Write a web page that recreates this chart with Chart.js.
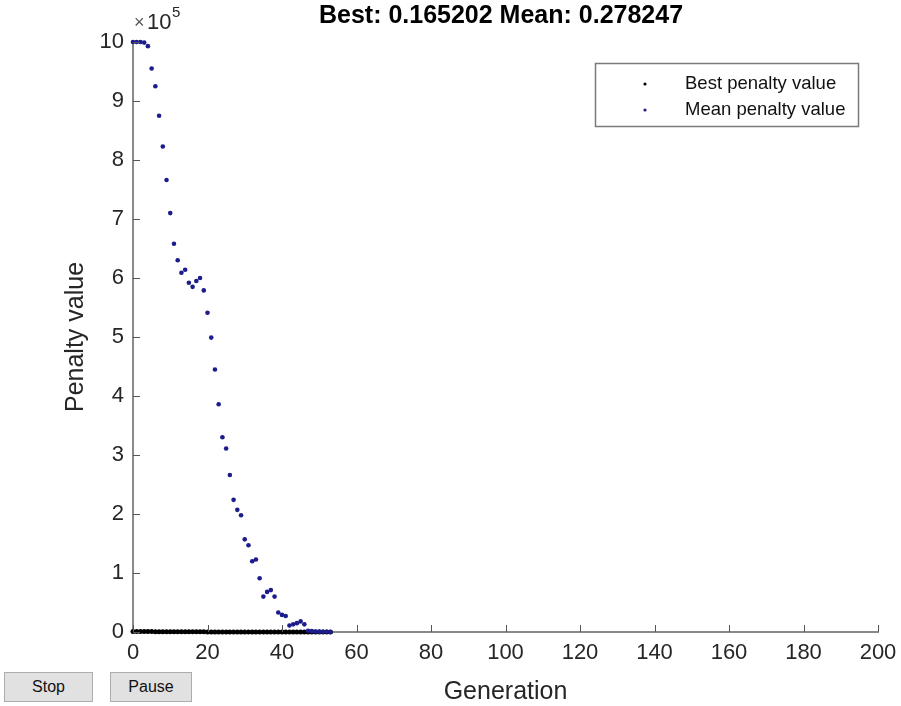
<!DOCTYPE html>
<html>
<head>
<meta charset="utf-8">
<script src="https://cdn.jsdelivr.net/npm/chart.js@4.4.0/dist/chart.umd.min.js"></script>
<style>
  body { margin: 0; background: #fff; }
  #wrap { position: relative; width: 901px; height: 706px; }
  .btn {
    position: absolute; top: 672px; height: 30px;
    background: #e1e1e1; border: 1px solid #adadad;
    font: 16px "Liberation Sans", Arial, sans-serif; color: #111;
    display: flex; align-items: center; justify-content: center;
    box-sizing: border-box;
  }
</style>
</head>
<body>
<div id="wrap">
  <canvas id="chart" width="901" height="706"></canvas>
  <div class="btn" style="left:4px;width:89px;">Stop</div>
  <div class="btn" style="left:110px;width:82px;">Pause</div>
</div>
<script>
// số liệu
var generations = [0, 1, 2, 3, 4, 5, 6, 7, 8, 9, 10, 11, 12, 13, 14, 15, 16, 17, 18, 19, 20,
    21, 22, 23, 24, 25, 26, 27, 28, 29, 30, 31, 32, 33, 34, 35, 36, 37, 38, 39, 40,
    41, 42, 43, 44, 45, 46, 47, 48, 49, 50, 51, 52, 53];

var meanPenalty = [1000000, 1000000, 1000000, 999000, 993000, 955000, 925000, 875000, 823000, 766000,
    710000, 658000, 630000, 609000, 614000, 592000, 585000, 595000, 600000, 579000,
    541000, 499000, 445000, 386000, 330000, 311000, 266000, 224000, 207000, 198000,
    157000, 147000, 120000, 123000, 91000, 60000, 68000, 71000, 60000, 33000,
    29000, 27000, 11000, 13000, 15000, 18000, 13000, 2100, 1400, 900, 600, 400, 300, 0.278];

var bestPenalty = [900, 850, 800, 760, 700, 650, 600, 560, 520, 480,
    450, 420, 390, 360, 330, 300, 280, 260, 240, 220,
    200, 180, 160, 140, 120, 100, 90, 80, 70, 60,
    50, 45, 40, 35, 30, 25, 20, 18, 16, 14,
    12, 10, 8, 6, 5, 4, 3, 2, 1.5, 1, 0.6, 0.4, 0.2, 0.165];

var xTicks = [0, 20, 40, 60, 80, 100, 120, 140, 160, 180, 200];
var yTicks = [0, 1, 2, 3, 4, 5, 6, 7, 8, 9, 10];

var titleText = "Best: 0.165202 Mean: 0.278247";
var legendLabels = ["Best penalty value", "Mean penalty value"];

var fontFam = '"Liberation Sans", Arial, sans-serif';
var textColor = "#262626";
var axisColor = "#8a8a8a";

function toPoints(vals) {
    var out = [];
    for (var i = 0; i < generations.length; i++) {
        out.push({ x: generations[i], y: vals[i] });
    }
    return out;
}

// vẽ vạch chia hướng vào trong, tiêu đề, nhãn trục, chú thích
var decor = {
    id: "decor",
    afterDraw: function(chart) {
        var ctx = chart.ctx;
        var a = chart.chartArea;
        var xs = chart.scales.x, ys = chart.scales.y;
        ctx.save();
        ctx.strokeStyle = "#555";
        ctx.lineWidth = 1;
        xTicks.forEach(function(t) {
            var px = Math.round(xs.getPixelForValue(t)) + 0.5;
            ctx.beginPath();
            ctx.moveTo(px, a.bottom);
            ctx.lineTo(px, a.bottom - 7);
            ctx.stroke();
        });
        yTicks.forEach(function(t) {
            var py = Math.round(ys.getPixelForValue(t * 1e5)) + 0.5;
            ctx.beginPath();
            ctx.moveTo(a.left, py);
            ctx.lineTo(a.left + 7, py);
            ctx.stroke();
        });

        ctx.fillStyle = "#000";
        ctx.font = "bold 25px " + fontFam;
        ctx.textAlign = "center";
        ctx.textBaseline = "middle";
        ctx.fillText(titleText, 501, 16);

        ctx.fillStyle = textColor;
        ctx.font = "25px " + fontFam;
        ctx.fillText("Generation", (a.left + a.right) / 2, 692);
        ctx.save();
        ctx.translate(76, (a.top + a.bottom) / 2);
        ctx.rotate(-Math.PI / 2);
        ctx.fillText("Penalty value", 0, 0);
        ctx.restore();

        // ×10^5
        ctx.textAlign = "left";
        ctx.textBaseline = "alphabetic";
        ctx.fillStyle = "#555";
        ctx.font = "18px " + fontFam;
        ctx.fillText("\u00d7", 134, 28);
        ctx.fillStyle = textColor;
        ctx.font = "22px " + fontFam;
        ctx.fillText("10", 147, 29);
        ctx.font = "15px " + fontFam;
        ctx.fillText("5", 172, 17);

        // chú thích
        ctx.fillStyle = "#fff";
        ctx.fillRect(595, 63, 263, 63);
        ctx.strokeStyle = "#7a7a7a";
        ctx.lineWidth = 1.5;
        ctx.strokeRect(595.5, 63.5, 263, 63);
        ctx.font = "18.5px " + fontFam;
        ctx.textBaseline = "middle";
        var colors = ["#000000", "#1c1c8c"];
        for (var i = 0; i < legendLabels.length; i++) {
            var ly = 84 + i * 26;
            ctx.fillStyle = colors[i];
            ctx.beginPath();
            ctx.arc(645, ly, 1.6, 0, Math.PI * 2);
            ctx.fill();
            ctx.fillStyle = "#111";
            ctx.fillText(legendLabels[i], 685, ly);
        }
        ctx.restore();
    }
};

new Chart(document.getElementById("chart"), {
    type: "scatter",
    data: {
        datasets: [{
            label: legendLabels[1],
            data: toPoints(meanPenalty),
            backgroundColor: "#1c1c8c",
            borderColor: "#1c1c8c",
            pointRadius: 2.3,
            borderWidth: 0,
            clip: false,
            order: 0
        }, {
            label: legendLabels[0],
            data: toPoints(bestPenalty),
            backgroundColor: "#000000",
            borderColor: "#000000",
            pointRadius: 2.5,
            borderWidth: 0,
            clip: false,
            order: 1
        }]
    },
    options: {
        responsive: false,
        animation: false,
        events: [],
        layout: { padding: { left: 0, top: 42, right: 23, bottom: 0 } },
        plugins: { legend: { display: false }, tooltip: { enabled: false }, title: { display: false } },
        scales: {
            x: {
                type: "linear",
                min: 0,
                max: 200,
                afterFit: function(s) { s.height = 74; s.paddingLeft = 0; s.paddingRight = 0; },
                afterBuildTicks: function(s) { s.ticks = xTicks.map(function(v) { return { value: v }; }); },
                grid: { drawOnChartArea: false, drawTicks: false },
                border: { color: axisColor, width: 2 },
                ticks: { color: textColor, font: { family: fontFam, size: 22 }, padding: 8, maxRotation: 0 }
            },
            y: {
                type: "linear",
                min: 0,
                max: 1000000,
                afterFit: function(s) { s.width = 133; s.paddingTop = 0; s.paddingBottom = 0; },
                afterBuildTicks: function(s) { s.ticks = yTicks.map(function(v) { return { value: v * 1e5 }; }); },
                grid: { drawOnChartArea: false, drawTicks: false },
                border: { color: axisColor, width: 2 },
                ticks: {
                    color: textColor,
                    font: { family: fontFam, size: 22 },
                    padding: 9,
                    callback: function(v) { return String(v / 1e5); }
                }
            }
        }
    },
    plugins: [decor]
});
</script>
</body>
</html>
